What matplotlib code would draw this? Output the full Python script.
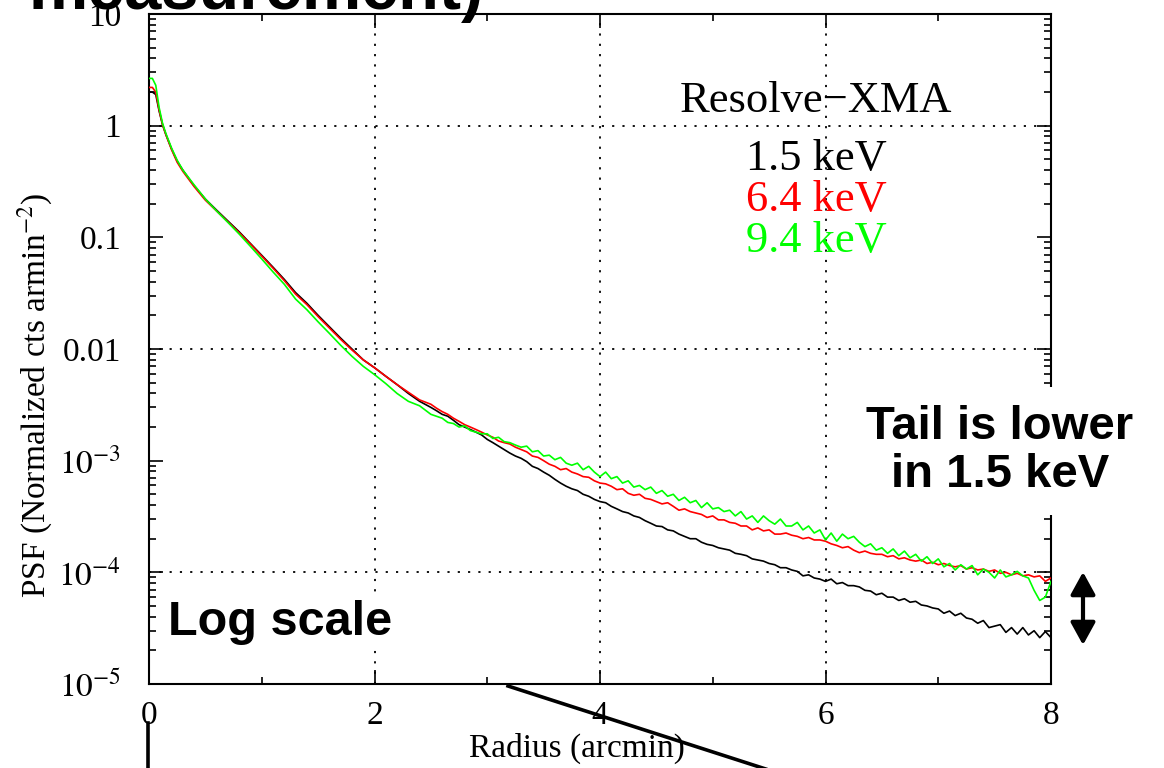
import numpy as np
import matplotlib
matplotlib.use("Agg")
import matplotlib.pyplot as plt
from matplotlib.lines import Line2D
from matplotlib.ticker import LogLocator, NullFormatter

plt.rcParams['font.family'] = ['Liberation Serif', 'DejaVu Serif']
plt.rcParams['mathtext.fontset'] = 'stix'

# Radius bins (arcmin)
radius_core = [0.00, 0.03, 0.06, 0.09, 0.12, 0.15, 0.20, 0.25, 0.30, 0.40,
               0.50, 0.60, 0.70, 0.80, 0.90, 1.00, 1.10, 1.20, 1.30, 1.40,
               1.50, 1.60, 1.70, 1.80, 1.90, 2.00, 2.10, 2.20, 2.30, 2.40]
radius_tail = np.round(np.arange(2.5, 8.0001, 0.05), 2)
radius = np.concatenate([radius_core, radius_tail])

# PSF: 1.5 keV (black)
psf_15_core = [2.0, 2.0, 1.9, 1.35, 1.02, 0.83, 0.62, 0.48, 0.40, 0.29,
               0.22, 0.175, 0.14, 0.112, 0.088, 0.069, 0.054, 0.042, 0.032, 0.0257,
               0.0200, 0.0158, 0.0125, 0.0100, 0.0080, 0.0068, 0.0057, 0.0048, 0.0040, 0.0034]
psf_15_tail = [3.0e-3, 2.8e-3, 2.6e-3, 2.5e-3, 2.3e-3, 2.1e-3, 2.0e-3, 1.9e-3, 1.8e-3, 1.7e-3,
               1.55e-3, 1.45e-3, 1.35e-3, 1.26e-3, 1.17e-3, 1.10e-3, 1.05e-3, 9.8e-4, 8.9e-4, 8.5e-4,
               7.9e-4, 7.4e-4, 6.8e-4, 6.3e-4, 5.9e-4, 5.6e-4, 5.4e-4, 5.0e-4, 4.8e-4, 4.5e-4,
               4.3e-4, 4.2e-4, 3.9e-4, 3.7e-4, 3.5e-4, 3.4e-4, 3.2e-4, 3.1e-4, 2.9e-4, 2.75e-4,
               2.6e-4, 2.57e-4, 2.4e-4, 2.35e-4, 2.2e-4, 2.1e-4, 2.0e-4, 2.0e-4, 1.86e-4, 1.78e-4,
               1.74e-4, 1.66e-4, 1.62e-4, 1.58e-4, 1.48e-4, 1.45e-4, 1.41e-4, 1.32e-4, 1.29e-4, 1.26e-4,
               1.20e-4, 1.17e-4, 1.10e-4, 1.10e-4, 1.05e-4, 1.02e-4, 9.3e-5, 9.5e-5, 8.9e-5, 8.7e-5,
               8.3e-5, 8.7e-5, 7.9e-5, 8.1e-5, 7.6e-5, 7.6e-5, 7.4e-5, 6.9e-5, 6.8e-5, 6.3e-5,
               6.5e-5, 6.0e-5, 6.0e-5, 5.6e-5, 5.8e-5, 5.4e-5, 5.5e-5, 5.1e-5, 5.0e-5, 4.8e-5,
               4.7e-5, 4.3e-5, 4.5e-5, 4.1e-5, 4.3e-5, 3.9e-5, 3.8e-5, 3.5e-5, 3.7e-5, 3.2e-5,
               3.3e-5, 3.4e-5, 2.9e-5, 3.2e-5, 2.8e-5, 3.2e-5, 2.75e-5, 3.0e-5, 2.6e-5, 2.95e-5,
               2.6e-5]

# 6.4 keV (red)
psf_64_core = [2.2, 2.2, 2.0, 1.38, 1.02, 0.83, 0.61, 0.47, 0.39, 0.285,
               0.215, 0.172, 0.138, 0.110, 0.087, 0.068, 0.053, 0.041, 0.031, 0.0250,
               0.0195, 0.0154, 0.0122, 0.0098, 0.0080, 0.0068, 0.0057, 0.0048, 0.0041, 0.0035]
psf_64_tail = [3.2e-3, 2.95e-3, 2.75e-3, 2.6e-3, 2.4e-3, 2.25e-3, 2.1e-3, 2.0e-3, 1.9e-3, 1.8e-3,
               1.7e-3, 1.62e-3, 1.5e-3, 1.45e-3, 1.41e-3, 1.32e-3, 1.26e-3, 1.2e-3, 1.10e-3, 1.07e-3,
               1.0e-3, 9.3e-4, 8.9e-4, 8.3e-4, 8.5e-4, 7.9e-4, 7.6e-4, 7.2e-4, 7.1e-4, 6.6e-4,
               6.3e-4, 6.2e-4, 5.9e-4, 5.5e-4, 5.6e-4, 5.1e-4, 4.9e-4, 5.0e-4, 4.6e-4, 4.5e-4,
               4.3e-4, 4.1e-4, 4.2e-4, 3.9e-4, 3.6e-4, 3.7e-4, 3.5e-4, 3.4e-4, 3.3e-4, 3.1e-4,
               3.2e-4, 2.95e-4, 2.95e-4, 2.8e-4, 2.75e-4, 2.6e-4, 2.6e-4, 2.4e-4, 2.5e-4, 2.35e-4,
               2.4e-4, 2.2e-4, 2.2e-4, 2.25e-4, 2.15e-4, 2.1e-4, 2.0e-4, 2.05e-4, 1.95e-4, 1.95e-4,
               1.9e-4, 1.8e-4, 1.74e-4, 1.66e-4, 1.7e-4, 1.58e-4, 1.5e-4, 1.55e-4, 1.48e-4, 1.45e-4,
               1.45e-4, 1.38e-4, 1.41e-4, 1.32e-4, 1.35e-4, 1.29e-4, 1.26e-4, 1.29e-4, 1.2e-4, 1.23e-4,
               1.17e-4, 1.2e-4, 1.15e-4, 1.12e-4, 1.15e-4, 1.07e-4, 1.10e-4, 1.05e-4, 1.07e-4, 1.02e-4,
               1.05e-4, 9.8e-5, 1.0e-4, 9.5e-5, 9.8e-5, 9.3e-5, 9.5e-5, 9.1e-5, 9.3e-5, 8.3e-5,
               8.9e-5]

# 9.4 keV (green)
psf_94_core = [2.65, 2.65, 2.3, 1.45, 1.05, 0.85, 0.63, 0.49, 0.40, 0.295,
               0.22, 0.172, 0.136, 0.107, 0.083, 0.064, 0.049, 0.038, 0.028, 0.0225,
               0.0175, 0.0138, 0.0108, 0.0086, 0.0070, 0.0059, 0.0049, 0.0040, 0.0034, 0.0031]
psf_94_tail = [2.6e-3, 2.5e-3, 2.4e-3, 2.2e-3, 2.15e-3, 2.0e-3, 2.05e-3, 1.86e-3, 1.8e-3, 1.74e-3,
               1.74e-3, 1.58e-3, 1.62e-3, 1.48e-3, 1.45e-3, 1.38e-3, 1.32e-3, 1.35e-3, 1.2e-3, 1.23e-3,
               1.1e-3, 1.12e-3, 1.02e-3, 1.07e-3, 9.5e-4, 9.1e-4, 9.5e-4, 8.3e-4, 8.9e-4, 7.9e-4,
               7.2e-4, 7.9e-4, 6.9e-4, 7.2e-4, 6.3e-4, 6.6e-4, 5.8e-4, 6.0e-4, 5.5e-4, 5.8e-4,
               5.1e-4, 5.4e-4, 4.8e-4, 5.0e-4, 4.4e-4, 4.7e-4, 4.2e-4, 4.4e-4, 3.8e-4, 4.2e-4,
               3.7e-4, 3.8e-4, 3.5e-4, 3.6e-4, 3.2e-4, 3.5e-4, 3.0e-4, 3.2e-4, 2.8e-4, 3.2e-4,
               2.9e-4, 2.7e-4, 3.0e-4, 2.6e-4, 2.6e-4, 2.8e-4, 2.4e-4, 2.6e-4, 2.25e-4, 2.4e-4,
               1.95e-4, 2.25e-4, 1.9e-4, 2.2e-4, 2.0e-4, 2.1e-4, 1.86e-4, 1.7e-4, 1.8e-4, 1.58e-4,
               1.66e-4, 1.48e-4, 1.62e-4, 1.41e-4, 1.55e-4, 1.35e-4, 1.45e-4, 1.26e-4, 1.38e-4, 1.2e-4,
               1.32e-4, 1.12e-4, 1.2e-4, 1.05e-4, 1.17e-4, 1.07e-4, 1.15e-4, 9.5e-5, 1.07e-4, 1.0e-4,
               8.9e-5, 1.05e-4, 9.1e-5, 9.5e-5, 1.02e-4, 9.3e-5, 8.9e-5, 6.9e-5, 5.6e-5, 6.0e-5,
               8.3e-5]

energies = ['1.5 keV', '6.4 keV', '9.4 keV']
colors = ['black', 'red', '#00ff00']
psf_all = [psf_15_core + psf_15_tail, psf_64_core + psf_64_tail, psf_94_core + psf_94_tail]

xticks = [0, 2, 4, 6, 8]
yticks = [1e-5, 1e-4, 1e-3, 1e-2, 1e-1, 1, 10]
ytick_labels = ['$10^{-5}$', '$10^{-4}$', '$10^{-3}$', '0.01', '0.1', '1', '10']
xgrid = [2, 4, 6]
ygrid = [1e-4, 1e-2, 1]

W, H = 1164, 768


def fxy(x, y):
    # pixel position -> figure fraction
    return x / W, 1 - y / H


fig = plt.figure(figsize=(W / 100, H / 100), dpi=100)
ax = fig.add_axes([149 / W, 1 - 684 / H, 902 / W, 670 / H])

for psf, c in zip(psf_all, colors):
    ax.plot(radius, psf, color=c, lw=1.2, zorder=3)

ax.set_yscale('log')
ax.set_xlim(0, 8)
ax.set_ylim(1e-5, 10)

for g in xgrid:
    ax.axvline(g, color='black', lw=1.3, ls=(0, (1.2, 4.5)), zorder=1)
for g in ygrid:
    ax.axhline(g, color='black', lw=1.3, ls=(0, (1.2, 4.5)), zorder=1)

ax.set_xticks(xticks)
ax.set_xticklabels([str(t) for t in xticks], fontsize=24)
ax.set_xticks([1, 3, 5, 7], minor=True)
ax.set_yticks(yticks)
ax.set_yticklabels(ytick_labels, fontsize=24)
ax.yaxis.set_minor_locator(LogLocator(base=10, subs=range(2, 10), numticks=20))
ax.yaxis.set_minor_formatter(NullFormatter())
ax.tick_params(which='both', direction='in', top=True, right=True, width=1.2)
ax.tick_params(which='major', length=10)
ax.tick_params(which='minor', length=5)
ax.tick_params(axis='y', which='major', pad=20)
ax.tick_params(axis='x', which='major', pad=12)
for s in ax.spines.values():
    s.set_linewidth(1.5)

ax.set_xlabel('Radius (arcmin)', fontsize=24, va='center')
ax.xaxis.set_label_coords((577 - 149) / 902, (684 - 748) / 670)
ax.set_ylabel('PSF (Normalized cts armin$^{-2}$)', fontsize=24, va='center')
ax.yaxis.set_label_coords((35 - 149) / 902, (684 - 395) / 670)

# legend as coloured text
fig.text(*fxy(816, 112), 'Resolve\u2212XMA', fontsize=32, ha='center', va='baseline')
for i, (lab, c) in enumerate(zip(energies, colors)):
    fig.text(*fxy(816, 170 + 41 * i), lab, color=c, fontsize=32, ha='center', va='baseline')

# slide annotations
sans = ['Liberation Sans', 'DejaVu Sans']
fig.text(*fxy(1000, 451), 'Tail is lower\nin 1.5 keV', family=sans, weight='bold',
         fontsize=34, ha='center', va='center', multialignment='center', linespacing=1.12,
         bbox=dict(facecolor='white', edgecolor='none', pad=13), zorder=10)
fig.text(*fxy(168, 635), 'Log scale', family=sans, weight='bold', fontsize=35,
         ha='left', va='baseline',
         bbox=dict(facecolor='white', edgecolor='none', pad=1), zorder=10)
fig.text(*fxy(484, 9), 'measurement)', family=sans, weight='bold', fontsize=48,
         ha='right', va='baseline', zorder=10)

ax.annotate('', xy=fxy(1083, 572), xytext=fxy(1083, 645),
            xycoords='figure fraction', textcoords='figure fraction',
            arrowprops=dict(arrowstyle='<|-|>,head_length=0.4,head_width=0.22',
                            mutation_scale=34, lw=3, color='black',
                            shrinkA=0, shrinkB=0), annotation_clip=False)

x1, y1 = fxy(508, 686)
x2, y2 = fxy(775, 772)
fig.add_artist(Line2D([x1, x2], [y1, y2], color='black', lw=2.6))
x1, y1 = fxy(148, 723)
x2, y2 = fxy(148, 772)
fig.add_artist(Line2D([x1, x2], [y1, y2], color='black', lw=2.6))

fig.savefig('out.png', dpi=100)
